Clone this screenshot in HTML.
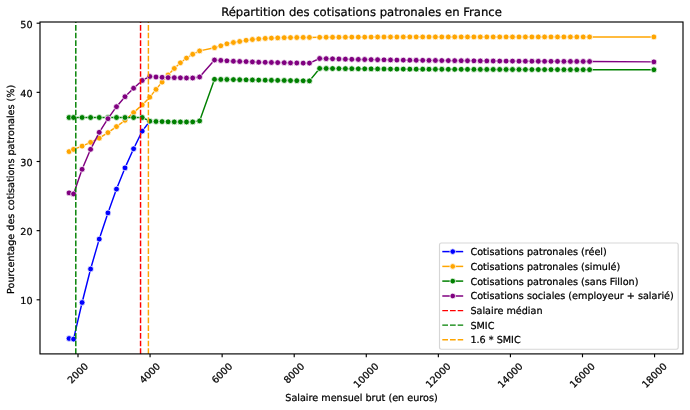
<!DOCTYPE html>
<html lang="fr"><head><meta charset="utf-8"><title>Répartition des cotisations patronales en France</title>
<style>html,body{margin:0;padding:0;background:#fff}svg{display:block;will-change:transform}text{text-rendering:geometricPrecision;stroke:#000;stroke-width:.24px}</style></head>
<body>
<svg width="690" height="410" viewBox="0 0 690 410" font-family="'DejaVu Sans','Liberation Sans',sans-serif" font-size="9.65" fill="#000">
<rect width="690" height="410" fill="#fff"/>
<clipPath id="c"><rect x="40.0" y="22.0" width="643.0" height="331.9"/></clipPath>
<g clip-path="url(#c)">
<polyline points="69.05,338.50 73.55,339.10 82.10,302.50 90.60,269.00 99.25,239.10 107.95,212.90 116.50,189.10 125.00,167.90 133.60,148.80 142.20,131.10 149.80,121.30" fill="none" stroke="#0000ff" stroke-width="1.45" stroke-linejoin="round"/>
<g fill="#0000ff" stroke="#fff" stroke-width="0.75"><circle cx="69.05" cy="338.50" r="2.9"/><circle cx="73.55" cy="339.10" r="2.9"/><circle cx="82.10" cy="302.50" r="2.9"/><circle cx="90.60" cy="269.00" r="2.9"/><circle cx="99.25" cy="239.10" r="2.9"/><circle cx="107.95" cy="212.90" r="2.9"/><circle cx="116.50" cy="189.10" r="2.9"/><circle cx="125.00" cy="167.90" r="2.9"/><circle cx="133.60" cy="148.80" r="2.9"/><circle cx="142.20" cy="131.10" r="2.9"/><circle cx="149.80" cy="121.30" r="2.9"/></g>

<polyline points="69.05,151.60 73.55,149.40 82.10,146.10 90.60,142.30 99.25,138.20 107.95,132.60 116.50,126.60 125.00,120.30 133.60,112.60 142.20,104.90 149.80,97.15 156.00,89.40 162.10,82.10 168.10,75.00 174.30,68.45 180.40,62.80 186.50,58.10 192.70,54.25 199.60,50.90 214.50,47.70 220.80,45.80 226.90,43.80 233.40,42.50 239.70,41.45 246.10,40.30 252.40,39.50 258.70,38.90 265.20,38.40 271.40,38.10 277.70,37.90 284.20,37.70 290.50,37.60 296.80,37.50 303.20,37.40 309.45,37.40 319.65,37.30 326.15,37.25 332.55,37.20 338.90,37.20 345.40,37.15 351.80,37.10 358.30,37.10 364.70,37.10 371.10,37.05 377.60,37.00 384.00,37.00 390.50,37.00 396.90,37.00 403.30,36.95 409.80,36.95 416.20,36.95 422.70,36.95 429.00,36.95 435.40,36.95 441.80,36.95 448.30,36.95 454.70,36.95 461.20,36.95 467.50,36.95 473.90,36.95 480.30,36.95 486.80,36.95 493.20,36.95 499.70,36.95 506.10,36.95 512.50,36.95 519.00,36.95 525.40,36.95 531.90,36.95 538.30,36.95 544.60,36.95 551.00,36.95 557.50,36.95 563.90,36.95 570.40,36.95 576.80,36.95 583.20,36.95 589.60,36.95 653.90,36.95" fill="none" stroke="#ffa500" stroke-width="1.45" stroke-linejoin="round"/>
<g fill="#ffa500" stroke="#fff" stroke-width="0.75"><circle cx="69.05" cy="151.60" r="2.9"/><circle cx="73.55" cy="149.40" r="2.9"/><circle cx="82.10" cy="146.10" r="2.9"/><circle cx="90.60" cy="142.30" r="2.9"/><circle cx="99.25" cy="138.20" r="2.9"/><circle cx="107.95" cy="132.60" r="2.9"/><circle cx="116.50" cy="126.60" r="2.9"/><circle cx="125.00" cy="120.30" r="2.9"/><circle cx="133.60" cy="112.60" r="2.9"/><circle cx="142.20" cy="104.90" r="2.9"/><circle cx="149.80" cy="97.15" r="2.9"/><circle cx="156.00" cy="89.40" r="2.9"/><circle cx="162.10" cy="82.10" r="2.9"/><circle cx="168.10" cy="75.00" r="2.9"/><circle cx="174.30" cy="68.45" r="2.9"/><circle cx="180.40" cy="62.80" r="2.9"/><circle cx="186.50" cy="58.10" r="2.9"/><circle cx="192.70" cy="54.25" r="2.9"/><circle cx="199.60" cy="50.90" r="2.9"/><circle cx="214.50" cy="47.70" r="2.9"/><circle cx="220.80" cy="45.80" r="2.9"/><circle cx="226.90" cy="43.80" r="2.9"/><circle cx="233.40" cy="42.50" r="2.9"/><circle cx="239.70" cy="41.45" r="2.9"/><circle cx="246.10" cy="40.30" r="2.9"/><circle cx="252.40" cy="39.50" r="2.9"/><circle cx="258.70" cy="38.90" r="2.9"/><circle cx="265.20" cy="38.40" r="2.9"/><circle cx="271.40" cy="38.10" r="2.9"/><circle cx="277.70" cy="37.90" r="2.9"/><circle cx="284.20" cy="37.70" r="2.9"/><circle cx="290.50" cy="37.60" r="2.9"/><circle cx="296.80" cy="37.50" r="2.9"/><circle cx="303.20" cy="37.40" r="2.9"/><circle cx="309.45" cy="37.40" r="2.9"/><circle cx="319.65" cy="37.30" r="2.9"/><circle cx="326.15" cy="37.25" r="2.9"/><circle cx="332.55" cy="37.20" r="2.9"/><circle cx="338.90" cy="37.20" r="2.9"/><circle cx="345.40" cy="37.15" r="2.9"/><circle cx="351.80" cy="37.10" r="2.9"/><circle cx="358.30" cy="37.10" r="2.9"/><circle cx="364.70" cy="37.10" r="2.9"/><circle cx="371.10" cy="37.05" r="2.9"/><circle cx="377.60" cy="37.00" r="2.9"/><circle cx="384.00" cy="37.00" r="2.9"/><circle cx="390.50" cy="37.00" r="2.9"/><circle cx="396.90" cy="37.00" r="2.9"/><circle cx="403.30" cy="36.95" r="2.9"/><circle cx="409.80" cy="36.95" r="2.9"/><circle cx="416.20" cy="36.95" r="2.9"/><circle cx="422.70" cy="36.95" r="2.9"/><circle cx="429.00" cy="36.95" r="2.9"/><circle cx="435.40" cy="36.95" r="2.9"/><circle cx="441.80" cy="36.95" r="2.9"/><circle cx="448.30" cy="36.95" r="2.9"/><circle cx="454.70" cy="36.95" r="2.9"/><circle cx="461.20" cy="36.95" r="2.9"/><circle cx="467.50" cy="36.95" r="2.9"/><circle cx="473.90" cy="36.95" r="2.9"/><circle cx="480.30" cy="36.95" r="2.9"/><circle cx="486.80" cy="36.95" r="2.9"/><circle cx="493.20" cy="36.95" r="2.9"/><circle cx="499.70" cy="36.95" r="2.9"/><circle cx="506.10" cy="36.95" r="2.9"/><circle cx="512.50" cy="36.95" r="2.9"/><circle cx="519.00" cy="36.95" r="2.9"/><circle cx="525.40" cy="36.95" r="2.9"/><circle cx="531.90" cy="36.95" r="2.9"/><circle cx="538.30" cy="36.95" r="2.9"/><circle cx="544.60" cy="36.95" r="2.9"/><circle cx="551.00" cy="36.95" r="2.9"/><circle cx="557.50" cy="36.95" r="2.9"/><circle cx="563.90" cy="36.95" r="2.9"/><circle cx="570.40" cy="36.95" r="2.9"/><circle cx="576.80" cy="36.95" r="2.9"/><circle cx="583.20" cy="36.95" r="2.9"/><circle cx="589.60" cy="36.95" r="2.9"/><circle cx="653.90" cy="36.95" r="2.9"/></g>

<polyline points="69.05,117.50 73.55,117.50 82.10,117.50 90.60,117.50 99.25,117.50 107.95,117.50 116.50,117.50 125.00,117.50 133.60,117.50 142.20,117.50 149.80,121.20 156.00,121.50 162.10,121.60 168.10,121.80 174.30,121.90 180.40,121.90 186.50,122.00 192.70,121.90 199.60,120.90 214.50,79.30 220.80,79.41 226.90,79.51 233.40,79.62 239.70,79.73 246.10,79.83 252.40,79.94 258.70,80.05 265.20,80.15 271.40,80.26 277.70,80.37 284.20,80.47 290.50,80.58 296.80,80.69 303.20,80.79 309.45,80.90 319.65,68.45 326.15,68.50 332.55,68.56 338.90,68.61 345.40,68.67 351.80,68.72 358.30,68.78 364.70,68.83 371.10,68.88 377.60,68.94 384.00,68.99 390.50,69.05 396.90,69.10 403.30,69.12 409.80,69.15 416.20,69.17 422.70,69.19 429.00,69.22 435.40,69.24 441.80,69.26 448.30,69.29 454.70,69.31 461.20,69.33 467.50,69.36 473.90,69.38 480.30,69.40 486.80,69.43 493.20,69.45 499.70,69.47 506.10,69.48 512.50,69.50 519.00,69.52 525.40,69.53 531.90,69.55 538.30,69.57 544.60,69.58 551.00,69.60 557.50,69.62 563.90,69.63 570.40,69.65 576.80,69.67 583.20,69.68 589.60,69.70 653.90,69.75" fill="none" stroke="#008000" stroke-width="1.45" stroke-linejoin="round"/>
<g fill="#008000" stroke="#fff" stroke-width="0.75"><circle cx="69.05" cy="117.50" r="2.9"/><circle cx="73.55" cy="117.50" r="2.9"/><circle cx="82.10" cy="117.50" r="2.9"/><circle cx="90.60" cy="117.50" r="2.9"/><circle cx="99.25" cy="117.50" r="2.9"/><circle cx="107.95" cy="117.50" r="2.9"/><circle cx="116.50" cy="117.50" r="2.9"/><circle cx="125.00" cy="117.50" r="2.9"/><circle cx="133.60" cy="117.50" r="2.9"/><circle cx="142.20" cy="117.50" r="2.9"/><circle cx="149.80" cy="121.20" r="2.9"/><circle cx="156.00" cy="121.50" r="2.9"/><circle cx="162.10" cy="121.60" r="2.9"/><circle cx="168.10" cy="121.80" r="2.9"/><circle cx="174.30" cy="121.90" r="2.9"/><circle cx="180.40" cy="121.90" r="2.9"/><circle cx="186.50" cy="122.00" r="2.9"/><circle cx="192.70" cy="121.90" r="2.9"/><circle cx="199.60" cy="120.90" r="2.9"/><circle cx="214.50" cy="79.30" r="2.9"/><circle cx="220.80" cy="79.41" r="2.9"/><circle cx="226.90" cy="79.51" r="2.9"/><circle cx="233.40" cy="79.62" r="2.9"/><circle cx="239.70" cy="79.73" r="2.9"/><circle cx="246.10" cy="79.83" r="2.9"/><circle cx="252.40" cy="79.94" r="2.9"/><circle cx="258.70" cy="80.05" r="2.9"/><circle cx="265.20" cy="80.15" r="2.9"/><circle cx="271.40" cy="80.26" r="2.9"/><circle cx="277.70" cy="80.37" r="2.9"/><circle cx="284.20" cy="80.47" r="2.9"/><circle cx="290.50" cy="80.58" r="2.9"/><circle cx="296.80" cy="80.69" r="2.9"/><circle cx="303.20" cy="80.79" r="2.9"/><circle cx="309.45" cy="80.90" r="2.9"/><circle cx="319.65" cy="68.45" r="2.9"/><circle cx="326.15" cy="68.50" r="2.9"/><circle cx="332.55" cy="68.56" r="2.9"/><circle cx="338.90" cy="68.61" r="2.9"/><circle cx="345.40" cy="68.67" r="2.9"/><circle cx="351.80" cy="68.72" r="2.9"/><circle cx="358.30" cy="68.78" r="2.9"/><circle cx="364.70" cy="68.83" r="2.9"/><circle cx="371.10" cy="68.88" r="2.9"/><circle cx="377.60" cy="68.94" r="2.9"/><circle cx="384.00" cy="68.99" r="2.9"/><circle cx="390.50" cy="69.05" r="2.9"/><circle cx="396.90" cy="69.10" r="2.9"/><circle cx="403.30" cy="69.12" r="2.9"/><circle cx="409.80" cy="69.15" r="2.9"/><circle cx="416.20" cy="69.17" r="2.9"/><circle cx="422.70" cy="69.19" r="2.9"/><circle cx="429.00" cy="69.22" r="2.9"/><circle cx="435.40" cy="69.24" r="2.9"/><circle cx="441.80" cy="69.26" r="2.9"/><circle cx="448.30" cy="69.29" r="2.9"/><circle cx="454.70" cy="69.31" r="2.9"/><circle cx="461.20" cy="69.33" r="2.9"/><circle cx="467.50" cy="69.36" r="2.9"/><circle cx="473.90" cy="69.38" r="2.9"/><circle cx="480.30" cy="69.40" r="2.9"/><circle cx="486.80" cy="69.43" r="2.9"/><circle cx="493.20" cy="69.45" r="2.9"/><circle cx="499.70" cy="69.47" r="2.9"/><circle cx="506.10" cy="69.48" r="2.9"/><circle cx="512.50" cy="69.50" r="2.9"/><circle cx="519.00" cy="69.52" r="2.9"/><circle cx="525.40" cy="69.53" r="2.9"/><circle cx="531.90" cy="69.55" r="2.9"/><circle cx="538.30" cy="69.57" r="2.9"/><circle cx="544.60" cy="69.58" r="2.9"/><circle cx="551.00" cy="69.60" r="2.9"/><circle cx="557.50" cy="69.62" r="2.9"/><circle cx="563.90" cy="69.63" r="2.9"/><circle cx="570.40" cy="69.65" r="2.9"/><circle cx="576.80" cy="69.67" r="2.9"/><circle cx="583.20" cy="69.68" r="2.9"/><circle cx="589.60" cy="69.70" r="2.9"/><circle cx="653.90" cy="69.75" r="2.9"/></g>

<polyline points="69.05,192.90 73.55,193.90 82.10,169.30 90.60,149.30 99.25,132.30 107.95,118.70 116.50,106.70 125.00,96.70 133.60,88.20 142.20,80.45 149.80,76.50 156.00,77.00 162.10,77.30 168.10,77.60 174.30,77.70 180.40,77.80 186.50,78.00 192.70,78.00 199.60,77.00 214.50,60.00 220.80,60.40 226.90,60.80 233.40,61.20 239.70,61.45 246.10,61.60 252.40,61.90 258.70,62.20 265.20,62.30 271.40,62.45 277.70,62.60 284.20,62.70 290.50,62.90 296.80,63.00 303.20,63.10 309.45,63.10 319.65,58.50 326.15,58.66 332.55,58.82 338.90,58.98 345.40,59.14 351.80,59.30 358.30,59.41 364.70,59.51 371.10,59.62 377.60,59.73 384.00,59.84 390.50,59.94 396.90,60.05 403.30,60.12 409.80,60.19 416.20,60.26 422.70,60.33 429.00,60.39 435.40,60.46 441.80,60.53 448.30,60.60 454.70,60.66 461.20,60.71 467.50,60.77 473.90,60.83 480.30,60.89 486.80,60.94 493.20,61.00 499.70,61.04 506.10,61.08 512.50,61.11 519.00,61.15 525.40,61.19 531.90,61.22 538.30,61.26 544.60,61.30 551.00,61.33 557.50,61.36 563.90,61.39 570.40,61.41 576.80,61.44 583.20,61.47 589.60,61.50 653.90,61.90" fill="none" stroke="#800080" stroke-width="1.45" stroke-linejoin="round"/>
<g fill="#800080" stroke="#fff" stroke-width="0.75"><circle cx="69.05" cy="192.90" r="2.9"/><circle cx="73.55" cy="193.90" r="2.9"/><circle cx="82.10" cy="169.30" r="2.9"/><circle cx="90.60" cy="149.30" r="2.9"/><circle cx="99.25" cy="132.30" r="2.9"/><circle cx="107.95" cy="118.70" r="2.9"/><circle cx="116.50" cy="106.70" r="2.9"/><circle cx="125.00" cy="96.70" r="2.9"/><circle cx="133.60" cy="88.20" r="2.9"/><circle cx="142.20" cy="80.45" r="2.9"/><circle cx="149.80" cy="76.50" r="2.9"/><circle cx="156.00" cy="77.00" r="2.9"/><circle cx="162.10" cy="77.30" r="2.9"/><circle cx="168.10" cy="77.60" r="2.9"/><circle cx="174.30" cy="77.70" r="2.9"/><circle cx="180.40" cy="77.80" r="2.9"/><circle cx="186.50" cy="78.00" r="2.9"/><circle cx="192.70" cy="78.00" r="2.9"/><circle cx="199.60" cy="77.00" r="2.9"/><circle cx="214.50" cy="60.00" r="2.9"/><circle cx="220.80" cy="60.40" r="2.9"/><circle cx="226.90" cy="60.80" r="2.9"/><circle cx="233.40" cy="61.20" r="2.9"/><circle cx="239.70" cy="61.45" r="2.9"/><circle cx="246.10" cy="61.60" r="2.9"/><circle cx="252.40" cy="61.90" r="2.9"/><circle cx="258.70" cy="62.20" r="2.9"/><circle cx="265.20" cy="62.30" r="2.9"/><circle cx="271.40" cy="62.45" r="2.9"/><circle cx="277.70" cy="62.60" r="2.9"/><circle cx="284.20" cy="62.70" r="2.9"/><circle cx="290.50" cy="62.90" r="2.9"/><circle cx="296.80" cy="63.00" r="2.9"/><circle cx="303.20" cy="63.10" r="2.9"/><circle cx="309.45" cy="63.10" r="2.9"/><circle cx="319.65" cy="58.50" r="2.9"/><circle cx="326.15" cy="58.66" r="2.9"/><circle cx="332.55" cy="58.82" r="2.9"/><circle cx="338.90" cy="58.98" r="2.9"/><circle cx="345.40" cy="59.14" r="2.9"/><circle cx="351.80" cy="59.30" r="2.9"/><circle cx="358.30" cy="59.41" r="2.9"/><circle cx="364.70" cy="59.51" r="2.9"/><circle cx="371.10" cy="59.62" r="2.9"/><circle cx="377.60" cy="59.73" r="2.9"/><circle cx="384.00" cy="59.84" r="2.9"/><circle cx="390.50" cy="59.94" r="2.9"/><circle cx="396.90" cy="60.05" r="2.9"/><circle cx="403.30" cy="60.12" r="2.9"/><circle cx="409.80" cy="60.19" r="2.9"/><circle cx="416.20" cy="60.26" r="2.9"/><circle cx="422.70" cy="60.33" r="2.9"/><circle cx="429.00" cy="60.39" r="2.9"/><circle cx="435.40" cy="60.46" r="2.9"/><circle cx="441.80" cy="60.53" r="2.9"/><circle cx="448.30" cy="60.60" r="2.9"/><circle cx="454.70" cy="60.66" r="2.9"/><circle cx="461.20" cy="60.71" r="2.9"/><circle cx="467.50" cy="60.77" r="2.9"/><circle cx="473.90" cy="60.83" r="2.9"/><circle cx="480.30" cy="60.89" r="2.9"/><circle cx="486.80" cy="60.94" r="2.9"/><circle cx="493.20" cy="61.00" r="2.9"/><circle cx="499.70" cy="61.04" r="2.9"/><circle cx="506.10" cy="61.08" r="2.9"/><circle cx="512.50" cy="61.11" r="2.9"/><circle cx="519.00" cy="61.15" r="2.9"/><circle cx="525.40" cy="61.19" r="2.9"/><circle cx="531.90" cy="61.22" r="2.9"/><circle cx="538.30" cy="61.26" r="2.9"/><circle cx="544.60" cy="61.30" r="2.9"/><circle cx="551.00" cy="61.33" r="2.9"/><circle cx="557.50" cy="61.36" r="2.9"/><circle cx="563.90" cy="61.39" r="2.9"/><circle cx="570.40" cy="61.41" r="2.9"/><circle cx="576.80" cy="61.44" r="2.9"/><circle cx="583.20" cy="61.47" r="2.9"/><circle cx="589.60" cy="61.50" r="2.9"/><circle cx="653.90" cy="61.90" r="2.9"/></g>

<line x1="140.55" x2="140.55" y1="354.06" y2="22.0" stroke="#ff0000" stroke-width="1.45" stroke-dasharray="5.7,2.0"/>
<line x1="75.8" x2="75.8" y1="354.06" y2="22.0" stroke="#008000" stroke-width="1.45" stroke-dasharray="5.7,2.0"/>
<line x1="148.4" x2="148.4" y1="354.06" y2="22.0" stroke="#ffa500" stroke-width="1.45" stroke-dasharray="5.7,2.0"/>
</g>
<g stroke="#000" stroke-width="1.15"><line x1="78.00" x2="78.00" y1="353.9" y2="357.29"/><line x1="150.07" x2="150.07" y1="353.9" y2="357.29"/><line x1="222.14" x2="222.14" y1="353.9" y2="357.29"/><line x1="294.21" x2="294.21" y1="353.9" y2="357.29"/><line x1="366.28" x2="366.28" y1="353.9" y2="357.29"/><line x1="438.35" x2="438.35" y1="353.9" y2="357.29"/><line x1="510.42" x2="510.42" y1="353.9" y2="357.29"/><line x1="582.49" x2="582.49" y1="353.9" y2="357.29"/><line x1="654.56" x2="654.56" y1="353.9" y2="357.29"/><line x1="40.0" x2="36.61" y1="23.20" y2="23.20"/><line x1="40.0" x2="36.61" y1="92.35" y2="92.35"/><line x1="40.0" x2="36.61" y1="161.50" y2="161.50"/><line x1="40.0" x2="36.61" y1="230.65" y2="230.65"/><line x1="40.0" x2="36.61" y1="299.80" y2="299.80"/></g>
<rect x="40.0" y="22.0" width="643.0" height="331.9" fill="none" stroke="#000" stroke-width="1.15"/>
<text transform="translate(71.50,384.12) rotate(-45)">2000</text>
<text transform="translate(143.57,384.12) rotate(-45)">4000</text>
<text transform="translate(215.64,384.12) rotate(-45)">6000</text>
<text transform="translate(287.71,384.12) rotate(-45)">8000</text>
<text transform="translate(357.61,388.46) rotate(-45)">10000</text>
<text transform="translate(429.68,388.46) rotate(-45)">12000</text>
<text transform="translate(501.75,388.46) rotate(-45)">14000</text>
<text transform="translate(573.82,388.46) rotate(-45)">16000</text>
<text transform="translate(645.89,388.46) rotate(-45)">18000</text>
<text x="32.62" y="27.82" text-anchor="end">50</text>
<text x="32.62" y="96.97" text-anchor="end">40</text>
<text x="32.62" y="166.12" text-anchor="end">30</text>
<text x="32.62" y="235.27" text-anchor="end">20</text>
<text x="32.62" y="304.42" text-anchor="end">10</text>
<text x="361.50" y="16.19" text-anchor="middle" font-size="11.63">Répartition des cotisations patronales en France</text>
<text x="361.50" y="400.5" text-anchor="middle">Salaire mensuel brut (en euros)</text>
<text transform="translate(14.3,189.35) rotate(-90)" text-anchor="middle">Pourcentage des cotisations patronales (%)</text>
<rect x="439.5" y="243.0" width="238.70000000000005" height="106.19999999999999" rx="1.94" fill="#fff" fill-opacity="0.8" stroke="#ccc" stroke-opacity="0.8" stroke-width="1.15"/>
<line x1="442.3" x2="463.2" y1="251.60" y2="251.60" stroke="#0000ff" stroke-width="1.5"/>
<circle cx="452.75" cy="251.6" r="2.8" fill="#0000ff" stroke="#fff" stroke-width="0.75"/>
<text x="470.45" y="255.05">Cotisations patronales (réel)</text>
<line x1="442.3" x2="463.2" y1="266.40" y2="266.40" stroke="#ffa500" stroke-width="1.5"/>
<circle cx="452.75" cy="266.4" r="2.8" fill="#ffa500" stroke="#fff" stroke-width="0.75"/>
<text x="470.45" y="269.85">Cotisations patronales (simulé)</text>
<line x1="442.3" x2="463.2" y1="281.10" y2="281.10" stroke="#008000" stroke-width="1.5"/>
<circle cx="452.75" cy="281.1" r="2.8" fill="#008000" stroke="#fff" stroke-width="0.75"/>
<text x="470.45" y="284.55">Cotisations patronales (sans Fillon)</text>
<line x1="442.3" x2="463.2" y1="296.00" y2="296.00" stroke="#800080" stroke-width="1.5"/>
<circle cx="452.75" cy="296.0" r="2.8" fill="#800080" stroke="#fff" stroke-width="0.75"/>
<text x="470.45" y="299.45">Cotisations sociales (employeur + salarié)</text>
<line x1="442.3" x2="463.2" y1="310.6" y2="310.6" stroke="#ff0000" stroke-width="1.45" stroke-dasharray="5.7,2.0"/>
<text x="470.45" y="314.05">Salaire médian</text>
<line x1="442.3" x2="463.2" y1="325.1" y2="325.1" stroke="#008000" stroke-width="1.45" stroke-dasharray="5.7,2.0"/>
<text x="470.45" y="328.55">SMIC</text>
<line x1="442.3" x2="463.2" y1="339.8" y2="339.8" stroke="#ffa500" stroke-width="1.45" stroke-dasharray="5.7,2.0"/>
<text x="470.45" y="343.25">1.6 * SMIC</text>
</svg>
</body></html>
